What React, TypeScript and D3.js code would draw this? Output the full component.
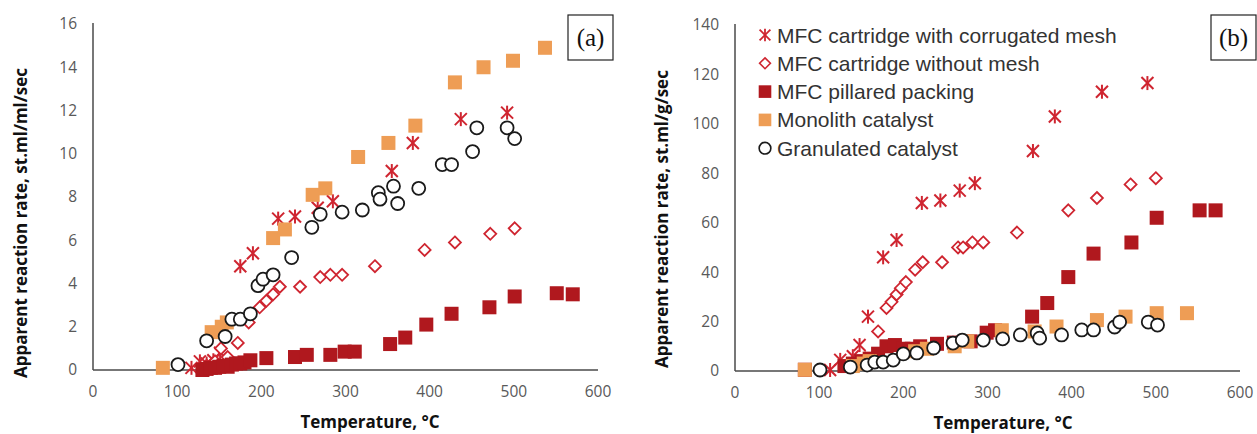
import React from "react";
import * as d3 from "d3";

// ---------- Panel (a) data: rate, st.ml/ml/sec ----------
const meshA_T = [117, 127, 135, 143, 151, 175, 190, 220, 240, 267, 285, 355, 380, 437, 492];
const meshA_V = [0.1, 0.4, 0.3, 0.45, 0.8, 4.8, 5.4, 7.0, 7.1, 7.5, 7.8, 9.2, 10.5, 11.6, 11.9];

const noMeshA_T = [135, 145, 152, 160, 172, 185, 198, 206, 214, 222, 246, 270, 282, 296, 335, 394, 430, 472, 501];
const noMeshA_V = [0.2, 0.4, 1.0, 0.6, 1.25, 2.2, 2.9, 3.2, 3.5, 3.85, 3.85, 4.3, 4.4, 4.4, 4.8, 5.55, 5.9, 6.3, 6.55];

const pillarA_T = [130, 135, 140, 145, 150, 155, 160, 165, 170, 175, 180, 187, 206, 240, 254, 282, 299, 311, 353, 371, 396, 426, 471, 501, 551, 570];
const pillarA_V = [0, 0.05, 0.1, 0.1, 0.15, 0.2, 0.15, 0.25, 0.3, 0.3, 0.35, 0.45, 0.55, 0.6, 0.7, 0.7, 0.85, 0.85, 1.2, 1.5, 2.1, 2.6, 2.9, 3.4, 3.55, 3.5];

const monoA_T = [83, 141, 153, 159, 214, 228, 261, 276, 315, 351, 383, 430, 464, 499, 537];
const monoA_V = [0.1, 1.75, 2.0, 2.2, 6.1, 6.5, 8.1, 8.4, 9.85, 10.5, 11.3, 13.3, 14.0, 14.3, 14.9];

const granA_T = [101, 135, 157, 165, 175, 187, 196, 202, 214, 236, 260, 270, 296, 320, 339, 341, 357, 362, 387, 415, 426, 451, 456, 492, 501];
const granA_V = [0.25, 1.35, 1.55, 2.35, 2.35, 2.6, 3.9, 4.2, 4.4, 5.2, 6.6, 7.2, 7.3, 7.4, 8.2, 7.9, 8.5, 7.7, 8.4, 9.5, 9.5, 10.1, 11.2, 11.2, 10.7];

// ---------- Panel (b) data: rate, st.ml/g/sec ----------
const meshB_T = [113, 125, 140, 148, 158, 176, 192, 222, 244, 267, 285, 354, 380, 436, 490];
const meshB_V = [0.4, 4.5, 6, 10.5, 22, 46, 53, 68, 69, 73, 76, 89, 103, 113, 116.5];

const noMeshB_T = [140, 155, 170, 180, 186, 192, 197, 203, 214, 223, 246, 265, 271, 282, 295, 335, 396, 430, 470, 500];
const noMeshB_V = [2, 5, 16, 25.5, 28, 31, 33.5, 36, 41, 44, 44, 50, 50, 52, 52, 56, 65, 70, 75.5, 78];

const pillarB_T = [83, 130, 140, 150, 160, 170, 180, 190, 200, 210, 220, 240, 260, 280, 299, 309, 353, 371, 396, 426, 471, 501, 552, 571];
const pillarB_V = [0.5, 2, 3, 4, 5, 7, 10, 10.5, 9, 9, 10, 11, 11.5, 12, 15.5, 16.5, 22, 27.5, 38, 47.5, 52, 62, 65, 65];

const monoB_T = [83, 140, 153, 160, 214, 228, 261, 276, 317, 356, 382, 430, 464, 501, 537];
const monoB_V = [0.5, 2, 3, 4, 8, 9, 10, 12, 16.5, 16, 18, 20.6, 22, 23.4, 23.4];

const granB_T = [101, 137, 157, 166, 176, 188, 200, 216, 236, 259, 270, 295, 318, 339, 359, 362, 388, 412, 426, 451, 457, 491, 502];
const granB_V = [0.4, 1.6, 2.4, 3.6, 3.6, 4.4, 6.9, 7.3, 9.3, 11.3, 12.5, 12.5, 13, 14.6, 15.4, 13.3, 14.6, 16.6, 16.6, 17.8, 19.8, 19.8, 18.6];

// ---------- labels ----------
const seriesNames = [
  "MFC cartridge with corrugated mesh",
  "MFC cartridge without mesh",
  "MFC pillared packing",
  "Monolith catalyst",
  "Granulated catalyst",
];
const xTicks = [0, 100, 200, 300, 400, 500, 600];
const yTicksA = [0, 2, 4, 6, 8, 10, 12, 14, 16];
const yTicksB = [0, 20, 40, 60, 80, 100, 120, 140];
const xTitle = "Temperature, °C";
const yTitleA = "Apparent reaction rate, st.ml/ml/sec";
const yTitleB = "Apparent reaction rate, st.ml/g/sec";

const RED = "#CF2530";
const DARKRED = "#B0181E";
const ORANGE = "#EE9D55";
const AXIS = "#4a4a4a";
const TICK = "#595959";
const FONT = "'Open Sans', 'DejaVu Sans', sans-serif";

type Kind = "star" | "diamond" | "square" | "orange" | "circle";

function Marker({ kind, x, y }: { kind: Kind; x: number; y: number }) {
  if (kind === "star") {
    const r = 6;
    return (
      <g stroke={RED} strokeWidth={2} strokeLinecap="butt">
        <line x1={x - r} y1={y - r} x2={x + r} y2={y + r} />
        <line x1={x - r} y1={y + r} x2={x + r} y2={y - r} />
        <line x1={x} y1={y - r - 1} x2={x} y2={y + r + 1} />
      </g>
    );
  }
  if (kind === "diamond") {
    const r = 6;
    return (
      <path
        d={`M${x},${y - r}L${x + r},${y}L${x},${y + r}L${x - r},${y}Z`}
        fill="white"
        stroke={RED}
        strokeWidth={1.8}
      />
    );
  }
  if (kind === "square") {
    const s = 14;
    return <rect x={x - s / 2} y={y - s / 2} width={s} height={s} fill={DARKRED} />;
  }
  if (kind === "orange") {
    const s = 14;
    return <rect x={x - s / 2} y={y - s / 2} width={s} height={s} fill={ORANGE} />;
  }
  return <circle cx={x} cy={y} r={6.5} fill="white" stroke="#1a1a1a" strokeWidth={1.8} />;
}

type Series = { kind: Kind; T: number[]; V: number[] };

function Panel({
  x0, x1, y0, y1, yMax, yTicks, yTitle, yTitleX, yTitleY, series, tag, tagX, xTitleX,
}: {
  x0: number; x1: number; y0: number; y1: number; yMax: number; yTicks: number[];
  yTitle: string; yTitleX: number; yTitleY: number; series: Series[]; tag: string; tagX: number; xTitleX: number;
}) {
  const xs = d3.scaleLinear().domain([0, 600]).range([x0, x1]);
  const ys = d3.scaleLinear().domain([0, yMax]).range([y0, y1]);
  return (
    <g>
      {/* axes */}
      <line x1={x0} y1={y1 - 1} x2={x0} y2={y0} stroke={AXIS} strokeWidth={1.5} />
      <line x1={x0} y1={y0} x2={x1} y2={y0} stroke={AXIS} strokeWidth={1.5} />
      {yTicks.map((t) => (
        <text key={t} x={x0 - 16} y={ys(t)} dy="0.35em" textAnchor="end" fontSize={15.5} fill={TICK} fontFamily={FONT}>
          {t}
        </text>
      ))}
      {xTicks.map((t) => (
        <text key={t} x={xs(t)} y={y0 + 27} textAnchor="middle" fontSize={15.5} fill={TICK} fontFamily={FONT}>
          {t}
        </text>
      ))}
      <text
        x={yTitleX}
        y={yTitleY}
        transform={`rotate(-90 ${yTitleX} ${yTitleY})`}
        textAnchor="middle"
        dy="0.35em"
        fontSize={17}
        fontWeight="bold"
        fill="#111"
        fontFamily={FONT}
      >
        {yTitle}
      </text>
      <text x={xTitleX} y={y0 + 58} textAnchor="middle" fontSize={17} fontWeight="bold" fill="#111" fontFamily={FONT}>
        {xTitle}
      </text>
      {/* data */}
      {series.map((s, si) => (
        <g key={si}>
          {s.T.map((t, i) => (
            <Marker key={i} kind={s.kind} x={xs(t)} y={ys(s.V[i])} />
          ))}
        </g>
      ))}
      {/* tag box */}
      <rect x={tagX} y={15} width={45} height={45} fill="white" stroke="#222" strokeWidth={1.2} />
      <text x={tagX + 22.5} y={46} textAnchor="middle" fontSize={25} fontFamily="'Liberation Serif', 'DejaVu Serif', serif" fill="#111">
        {tag}
      </text>
    </g>
  );
}

export default function App() {
  const seriesA: Series[] = [
    { kind: "star", T: meshA_T, V: meshA_V },
    { kind: "diamond", T: noMeshA_T, V: noMeshA_V },
    { kind: "square", T: pillarA_T, V: pillarA_V },
    { kind: "orange", T: monoA_T, V: monoA_V },
    { kind: "circle", T: granA_T, V: granA_V },
  ];
  const seriesB: Series[] = [
    { kind: "star", T: meshB_T, V: meshB_V },
    { kind: "diamond", T: noMeshB_T, V: noMeshB_V },
    { kind: "square", T: pillarB_T, V: pillarB_V },
    { kind: "orange", T: monoB_T, V: monoB_V },
    { kind: "circle", T: granB_T, V: granB_V },
  ];
  const legendKinds: Kind[] = ["star", "diamond", "square", "orange", "circle"];
  return (
    <div style={{ position: "absolute", left: 0, top: 0 }}>
      <svg width={1257} height={434} style={{ display: "block", background: "white" }}>
        <Panel
          x0={93} x1={598} y0={370} y1={24} yMax={16} yTicks={yTicksA}
          yTitle={yTitleA} yTitleX={21} yTitleY={223} series={seriesA} tag="(a)" tagX={568} xTitleX={370}
        />
        <Panel
          x0={735} x1={1240} y0={371} y1={25} yMax={140} yTicks={yTicksB}
          yTitle={yTitleB} yTitleX={662} yTitleY={219} series={seriesB} tag="(b)" tagX={1211} xTitleX={1003}
        />
        {/* legend */}
        {seriesNames.map((name, i) => {
          const cy = 35 + i * 28.3;
          return (
            <g key={name}>
              <g transform={`translate(765,${cy}) scale(0.9) translate(-765,${-cy})`}>
                <Marker kind={legendKinds[i]} x={765} y={cy} />
              </g>
              <text x={777} y={cy} dy="0.36em" fontSize={21} fill="#333" fontFamily="'Liberation Sans', Arial, sans-serif">
                {name}
              </text>
            </g>
          );
        })}
      </svg>
    </div>
  );
}
